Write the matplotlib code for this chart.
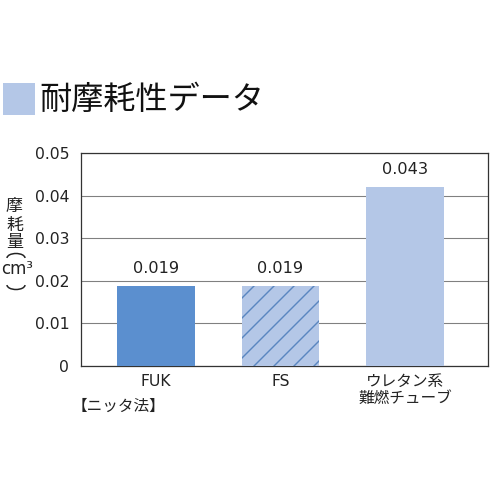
import matplotlib
matplotlib.use("Agg")
import matplotlib.pyplot as plt
import matplotlib.patches as mpatches

plt.rcParams["font.family"] = ["DejaVu Sans", "Noto Sans CJK JP"]
plt.rcParams["hatch.linewidth"] = 0.85
CJK = ["Noto Sans CJK JP", "DejaVu Sans"]

categories = ["FUK", "FS", "ウレタン系\n難燃チューブ"]
values = [0.0187, 0.0187, 0.0421]
value_labels = ["0.019", "0.019", "0.043"]
yticks = [0, 0.01, 0.02, 0.03, 0.04, 0.05]
ytick_labels = ["0", "0.01", "0.02", "0.03", "0.04", "0.05"]

DARK, LIGHT, HATCH = "#5b8fcf", "#b4c7e7", "#5a86c0"
TXT = "#222222"

W = 500
DPI = 120
fig = plt.figure(figsize=(W / DPI, W / DPI), dpi=DPI)
ax = fig.add_axes([80.5 / W, 134 / W, 407.5 / W, 213 / W])

x = list(range(len(categories)))
bars = ax.bar(x, values, width=0.62, color=[DARK, LIGHT, LIGHT], zorder=3, lw=0)
bars[1].set_hatch("//")
bars[1].set_edgecolor(HATCH)

for xi, v, lab in zip(x, values, value_labels):
    ax.annotate(lab, (xi, v), xytext=(0, 6), textcoords="offset points",
                ha="center", va="bottom", fontsize=9.7, color=TXT)

ax.set_xlim(-0.606, 2.667)
ax.set_ylim(0, 0.05)
ax.set_yticks(yticks)
ax.set_yticklabels(ytick_labels, fontsize=9.4, color=TXT)
ax.set_xticks(x)
ax.set_xticklabels(categories, fontsize=9.4, color=TXT, linespacing=1.15)
ax.tick_params(axis="both", length=0)
ax.tick_params(axis="y", pad=6.7)
ax.tick_params(axis="x", pad=4.7)
ax.grid(axis="y", color="#808080", lw=0.65, zorder=1)
for s in ax.spines.values():
    s.set_color("#333333")
    s.set_linewidth(0.75)

# header block + title
fig.patches.append(mpatches.Rectangle((3 / W, 1 - 115 / W), 32 / W, 32 / W,
                                      transform=fig.transFigure, color=LIGHT, lw=0))
fig.text(39 / W, 1 - 100 / W, "耐摩耗性データ", fontsize=19.3, va="center", ha="left",
         color="#111111", family=CJK)

# vertical y-axis label: 摩耗量（cm³） with vertical-form brackets
for t, yy in [("摩", 205.5), ("耗", 224.5), ("量", 241.5)]:
    fig.text(14.5 / W, 1 - yy / W, t, fontsize=10.2, ha="center", va="center", color=TXT, family=CJK)
fig.text(17 / W, 1 - 269 / W, "cm³", fontsize=10, ha="center", va="center", color=TXT)
for cy, t1, t2 in [(258, 0, 180), (285, 180, 360)]:
    fig.patches.append(mpatches.Arc((16 / W, 1 - cy / W), 18 / W, 9 / W, theta1=t1, theta2=t2,
                                    transform=fig.transFigure, color=TXT, lw=0.9))

fig.text(72 / W, 1 - 406 / W, "【ニッタ法】", fontsize=9.4, ha="left", va="center", color=TXT, family=CJK)

fig.savefig("out.png", dpi=DPI)
